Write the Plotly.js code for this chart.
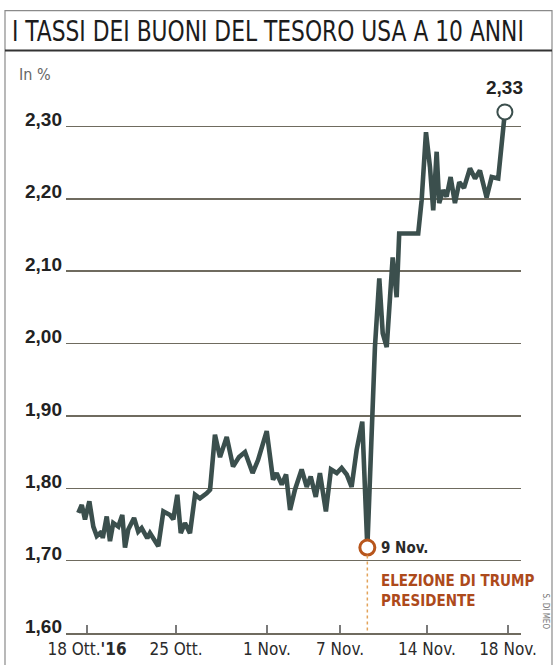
<!DOCTYPE html>
<html>
<head>
<meta charset="utf-8">
<script src="https://cdn.plot.ly/plotly-3.0.1.min.js"></script>
<style>
html,body{margin:0;padding:0;background:#fff;}
#chart{width:556px;height:665px;}
</style>
</head>
<body>
<div id="chart"></div>
<script>
// Trading-session position (0 = 18 Oct 2016) and 10-year US Treasury yield (%)
const sessions = [-0.48,-0.29,-0.11,0.13,0.35,0.54,0.81,0.87,1.09,1.27,1.45,1.73,1.95,2.10,2.28,2.60,2.83,3.02,3.33,3.48,3.94,4.22,4.59,4.77,4.99,5.18,5.41,5.69,5.97,6.24,6.61,6.80,7.07,7.35,7.72,8.07,8.40,8.73,9.15,9.45,9.93,10.28,10.48,10.76,11.00,11.22,11.49,11.86,12.14,12.36,12.64,12.87,13.20,13.48,13.80,14.07,14.35,14.62,14.90,15.21,15.49,15.91,16.15,16.34,16.56,16.74,16.89,17.11,17.25,18.30,18.49,18.73,18.95,19.13,19.32,19.46,19.68,19.87,20.09,20.33,20.57,20.83,21.16,21.44,21.71,22.08,22.36,22.72,23.09];
const yields = [1.766,1.777,1.757,1.782,1.747,1.734,1.740,1.731,1.761,1.727,1.752,1.747,1.763,1.718,1.743,1.759,1.740,1.745,1.731,1.738,1.720,1.768,1.763,1.757,1.791,1.738,1.752,1.738,1.791,1.786,1.793,1.798,1.874,1.843,1.871,1.830,1.843,1.850,1.821,1.839,1.879,1.812,1.821,1.805,1.819,1.770,1.798,1.826,1.802,1.816,1.788,1.821,1.768,1.826,1.821,1.828,1.819,1.802,1.853,1.892,1.718,1.995,2.090,2.014,1.995,2.070,2.119,2.064,2.152,2.152,2.198,2.292,2.244,2.184,2.265,2.194,2.212,2.203,2.230,2.194,2.223,2.215,2.242,2.228,2.239,2.202,2.230,2.228,2.320];
const tickPos = [0, 4.92, 9.94, 13.98, 18.78, 23.26];
const tickLabels = ["18 Ott.<b>'16</b>", "25 Ott.", "1 Nov.", "7 Nov.", "14 Nov.", "18 Nov."];
const yTicks = [1.60, 1.70, 1.80, 1.90, 2.00, 2.10, 2.20, 2.30];
const electionIndex = 60;           // 9 Nov. low
const lastLabel = "2,33";
const electionDate = "9 Nov.";
const electionText = "ELEZIONE DI TRUMP<br>PRESIDENTE";

const W = 556, H = 665;
const L = 66, R = 35, T = 82.5, B = 31.5;
const pw = W - L - R, ph = H - T - B;
const px = v => (v - L) / pw;           // pixel -> paper x
const py = v => (H - B - v) / ph;       // pixel -> paper y

const COND = 'DejaVu Sans Condensed, Liberation Sans Narrow, sans-serif';
const lastI = sessions.length - 1;
const lineColor = '#3b4f4d';
const gridColor = '#6f6b5f';
const accent = '#ad4a1b';

const traces = [
  {x: sessions, y: yields, type: 'scatter', mode: 'lines',
   line: {color: lineColor, width: 4.6, shape: 'linear'}, hoverinfo: 'skip', cliponaxis: false},
  {x: [sessions[lastI]], y: [yields[lastI]], type: 'scatter', mode: 'markers', cliponaxis: false,
   marker: {size: 15, color: '#ffffff', line: {color: lineColor, width: 2}}, hoverinfo: 'skip'},
  {x: [sessions[electionIndex]], y: [yields[electionIndex]], type: 'scatter', mode: 'markers', cliponaxis: false,
   marker: {size: 15, color: '#ffffff', line: {color: '#b8561c', width: 3}}, hoverinfo: 'skip'}
];

const layout = {
  width: W, height: H,
  margin: {l: L, r: R, t: T, b: B, pad: 0},
  paper_bgcolor: '#ffffff', plot_bgcolor: '#ffffff',
  showlegend: false,
  separators: ',.',
  title: {
    text: 'I TASSI DEI BUONI DEL TESORO USA A 10 ANNI',
    font: {family: COND, size: 29, color: '#1c1c1c'},
    xref: 'container', yref: 'container', x: 12 / W, xanchor: 'left',
    y: 1 - 31 / H, yanchor: 'middle'
  },
  xaxis: {
    range: [-1.16, 23.98], showgrid: false, zeroline: false,
    showline: true, linecolor: gridColor, linewidth: 1.5,
    tickmode: 'array', tickvals: tickPos, ticktext: tickLabels,
    ticks: 'inside', ticklen: 8, tickwidth: 1.3, tickcolor: '#7a7a7a',
    tickfont: {family: COND, size: 17, color: '#2a2a2a'},
    fixedrange: true
  },
  yaxis: {
    range: [1.60, 2.36], showgrid: true, gridcolor: gridColor, gridwidth: 1.5,
    zeroline: false, showline: false,
    tickmode: 'array', tickvals: yTicks, tickformat: '.2f',
    ticks: '', ticklabelstandoff: 3, ticklabelshift: -7,
    tickfont: {family: 'Liberation Sans', size: 19, color: '#222222', weight: 'bold'},
    fixedrange: true
  },
  shapes: [
    {type: 'rect', xref: 'paper', yref: 'paper', x0: px(5), x1: px(552), y0: py(672), y1: py(10),
     line: {color: '#8a8a8a', width: 1.2}, layer: 'below'},
    {type: 'line', xref: 'paper', yref: 'paper', x0: px(5), x1: px(552), y0: py(50), y1: py(50),
     line: {color: '#333333', width: 2}},
    {type: 'line', xref: 'x', yref: 'y', x0: sessions[electionIndex], x1: sessions[electionIndex],
     y0: yields[electionIndex] - 0.011, y1: 1.60,
     line: {color: '#e3a35a', width: 1.5, dash: 'dot'}}
  ],
  annotations: [
    {text: 'In %', xref: 'paper', yref: 'paper', x: px(17), y: py(74), xanchor: 'left', yanchor: 'middle',
     showarrow: false, font: {family: COND, size: 16, color: '#666666'}},
    {text: lastLabel, xref: 'x', yref: 'y', x: sessions[lastI], y: yields[lastI], yshift: 24,
     xanchor: 'center', yanchor: 'middle', showarrow: false,
     font: {family: 'Liberation Sans', size: 19, color: '#222222', weight: 'bold'}},
    {text: electionDate, xref: 'x', yref: 'y', x: sessions[electionIndex], y: yields[electionIndex],
     xshift: 12, xanchor: 'left', yanchor: 'middle', showarrow: false,
     font: {family: COND, size: 15, color: '#2a2a2a', weight: 'bold'}},
    {text: electionText, xref: 'x', yref: 'paper', x: sessions[electionIndex], y: py(570),
     xshift: 12, xanchor: 'left', yanchor: 'top', align: 'left', showarrow: false,
     font: {family: COND, size: 15, color: accent, weight: 'bold'}},
    {text: 'S. DI MEO', xref: 'paper', yref: 'paper', x: px(545), y: py(612), textangle: 90,
     xanchor: 'center', yanchor: 'middle', showarrow: false,
     font: {family: COND, size: 8, color: '#777777'}}
  ]
};

Plotly.newPlot('chart', traces, layout, {staticPlot: true, displayModeBar: false}).then(gd => {
  // squeeze the title horizontally to the condensed width of the original headline
  const t = gd.querySelector('.gtitle');
  if (t) {
    const bb = t.getBBox();
    const target = 512;
    if (bb.width > 0) {
      const s = Math.min(1, target / bb.width);
      t.setAttribute('transform', `translate(${bb.x},0) scale(${s},1) translate(${-bb.x},0)`);
    }
  }
});
</script>
</body>
</html>
